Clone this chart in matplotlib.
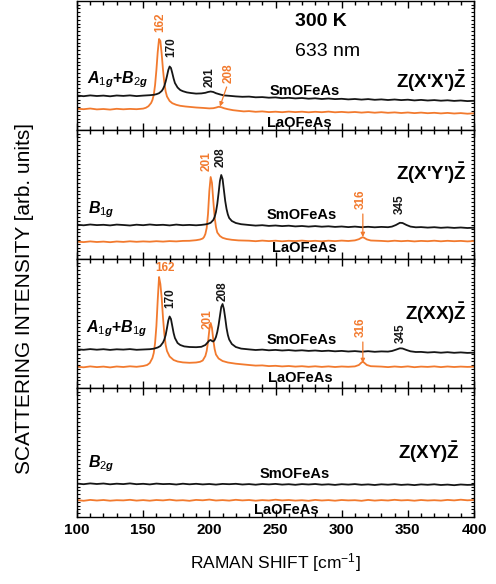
import matplotlib.pyplot as plt
from matplotlib.ticker import MultipleLocator

plt.rcParams['font.family'] = ['Liberation Sans', 'DejaVu Sans']
plt.rcParams['mathtext.fontset'] = 'custom'
plt.rcParams['mathtext.rm'] = 'Liberation Sans'
plt.rcParams['mathtext.it'] = 'Liberation Sans:italic:bold'
plt.rcParams['mathtext.bf'] = 'Liberation Sans:bold'

orange = '#f27a2e'
black = '#161616'

# ---- panel 1: Z(X'X')Z  (A1g+B2g)
p1_sm_x = list(range(100, 160, 5)) + [158, 160, 162, 164, 165, 166, 167, 168, 169, 170, 171, 172, 173, 174,
                                       176, 178, 180, 183, 186, 190, 194, 197, 199, 201, 203, 205, 208, 211, 215] \
    + list(range(220, 405, 5))
p1_sm_y = [34.5, 33.8, 34.6, 34.0, 34.4, 33.7, 34.5, 34.1, 34.6, 33.9, 34.4, 34.8,
           35.2, 35.8, 36.8, 39.0,
           41.0, 44.0, 48.5, 54.0, 60.0, 63.5, 62.0, 57.0, 51.5, 47.0,
           42.5, 40.0, 38.8, 37.6, 37.0, 36.4, 36.6, 37.2, 38.0, 38.5, 38.0, 36.8, 35.6, 34.6, 34.2,
           33.6, 33.2, 33.4, 32.7, 32.9, 32.3, 32.6, 31.8, 32.2, 31.6, 32.0, 31.3, 31.7, 31.0, 31.5,
           30.9, 31.2, 30.6, 31.0, 30.4, 30.9, 30.2, 30.6, 30.0, 30.5, 29.9, 30.3, 29.6, 30.1, 29.5,
           29.9, 29.3, 29.7, 29.1, 29.5, 28.9, 29.2]
p1_la_x = list(range(100, 155, 5)) + [152, 154, 156, 157, 158, 159, 160, 161, 162, 163, 164, 165, 166, 167, 168,
                                       170, 172, 175, 178, 182, 186, 190, 195, 200, 203, 205, 207, 209, 211, 214,
                                       218, 222, 226] + list(range(230, 405, 5))
p1_la_y = [21.3, 20.8, 21.5, 20.6, 21.0, 20.4, 21.2, 20.7, 21.1, 20.8, 21.4,
           22.2, 23.8, 27.0, 30.0, 35.0, 45.0, 60.0, 78.0, 91.0, 89.0, 76.0, 60.0, 47.0, 38.5, 33.5,
           29.0, 26.8, 25.2, 24.2, 23.5, 23.0, 22.5, 22.1, 21.6, 21.8, 22.4, 23.2, 22.8, 21.8, 20.8,
           19.8, 19.2, 18.6,
           18.9, 18.2, 18.6, 17.9, 18.3, 17.8, 18.4, 17.9, 18.3, 17.7, 18.2, 17.8, 18.4, 17.7, 18.1,
           17.6, 18.0, 17.4, 17.9, 17.3, 17.8, 17.2, 17.6, 17.0, 17.5, 16.9, 17.4, 16.8, 17.2, 16.6,
           17.1, 16.5, 16.9, 16.3, 16.7]

# ---- panel 2: Z(X'Y')Z  (B1g)
p2_sm_x = list(range(100, 195, 5)) + [194, 197, 199, 201, 203, 204, 205, 206, 207, 208, 209, 210, 211, 212,
                                       213, 214, 215, 217, 220, 224] + list(range(230, 340, 5)) \
    + [338, 341, 344, 346, 349, 352, 356] + list(range(360, 405, 5))
p2_sm_y = [34.3, 33.7, 34.5, 33.9, 34.2, 33.6, 34.4, 34.0, 33.5, 34.3, 33.8, 34.5, 33.9, 34.2, 33.6,
           34.4, 33.8, 34.1, 33.7,
           34.1, 34.6, 35.2, 36.2, 39.0, 42.0, 47.0, 55.0, 66.0, 78.0, 84.0, 80.0, 69.0, 58.0, 50.0,
           44.5, 41.0, 38.0, 36.0, 34.8,
           34.0, 33.4, 33.8, 33.1, 33.5, 32.9, 33.3, 32.6, 33.0, 32.4, 32.9, 32.3, 32.7, 32.1, 32.5,
           31.9, 32.4, 31.8, 32.2, 31.7, 32.1, 31.8,
           32.4, 34.0, 36.2, 36.0, 34.0, 32.4, 31.7,
           31.9, 31.4, 31.8, 31.2, 31.6, 31.1, 31.5, 31.0, 31.3]
p2_la_x = list(range(100, 190, 5)) + [190, 193, 195, 196, 197, 198, 199, 200, 201, 202, 203, 204, 205, 206,
                                       208, 210, 213, 217, 222] + list(range(230, 310, 5)) \
    + [310, 313, 315, 316, 317, 319, 322] + list(range(330, 405, 5))
p2_la_y = [17.3, 16.9, 17.6, 17.0, 17.4, 16.8, 17.5, 17.1, 17.7, 17.2, 17.6, 17.3, 17.8, 17.4, 17.9,
           17.6, 18.1, 18.2,
           18.8, 19.5, 20.5, 22.0, 25.0, 31.0, 45.0, 68.0, 82.0, 76.0, 58.0, 42.0, 32.0, 26.5, 23.0,
           21.2, 20.0, 19.2, 18.6,
           18.3, 17.8, 18.4, 17.9, 18.3, 17.7, 18.2, 17.9, 18.4, 17.8, 18.2, 17.7, 18.3, 17.9, 18.4, 18.0,
           18.6, 19.8, 21.3, 21.8, 21.2, 19.6, 18.5,
           18.1, 17.7, 18.3, 17.8, 18.2, 17.6, 18.1, 17.8, 18.3, 17.7, 18.2, 17.8, 18.1, 17.6, 18.0]

# ---- panel 3: Z(XX)Z  (A1g+B1g)
p3_sm_x = list(range(100, 160, 5)) + [158, 161, 163, 165, 166, 167, 168, 169, 170, 171, 172, 173, 174,
                                       176, 178, 181, 185, 190, 194, 197, 199, 200, 201, 202, 203, 204,
                                       205, 206, 207, 208, 209, 210, 211, 212, 213, 214, 215, 217, 220, 224] \
    + list(range(230, 340, 5)) + [338, 341, 344, 346, 349, 352, 356] + list(range(360, 405, 5))
p3_sm_y = [38.7, 38.2, 38.9, 38.3, 38.8, 38.1, 38.7, 38.4, 38.9, 38.2, 38.5, 38.8,
           39.3, 40.5, 42.0, 45.5, 48.5, 53.0, 60.0, 67.5, 71.5, 69.0, 62.0, 55.0, 50.0, 45.0, 43.0,
           41.6, 41.0, 40.8, 41.2, 43.0, 46.0, 47.5, 48.0, 47.0, 46.5, 48.0, 51.0, 56.0, 63.0, 72.0,
           81.0, 84.0, 79.0, 70.0, 60.0, 53.0, 48.5, 44.0, 41.0, 39.4,
           38.6, 38.0, 38.4, 37.7, 38.1, 37.5, 37.9, 37.3, 37.7, 37.1, 37.5, 36.9, 37.3, 36.7, 37.1,
           36.5, 36.9, 36.3, 36.8, 36.2, 36.6, 36.4,
           37.0, 38.3, 39.7, 39.5, 38.0, 36.7, 36.0,
           36.1, 35.5, 35.9, 35.3, 35.8, 35.2, 35.6, 35.1, 35.3]
p3_la_x = list(range(100, 155, 5)) + [153, 155, 157, 158, 159, 160, 161, 162, 163, 164, 165, 166, 167, 168,
                                       170, 173, 176, 180, 185, 190, 193, 195, 197, 198, 199, 200, 201, 202,
                                       203, 204, 205, 207, 210, 214, 220] + list(range(230, 310, 5)) \
    + [310, 313, 315, 316, 317, 319, 322] + list(range(330, 405, 5))
p3_la_y = [21.3, 20.7, 21.6, 20.9, 21.4, 20.6, 21.5, 21.0, 21.7, 21.2, 22.0,
           23.0, 25.0, 30.0, 35.0, 45.0, 62.0, 88.0, 111.0, 104.0, 90.0, 70.0, 54.0, 43.0, 37.0,
           31.5, 28.0, 26.5, 25.6, 25.2, 25.5, 26.2, 27.5, 32.0, 37.0, 46.0, 58.0, 65.0, 60.0,
           48.0, 39.0, 33.5, 29.5, 27.0, 25.5, 24.3,
           23.0, 22.4, 22.6, 21.9, 22.2, 21.6, 22.0, 21.4, 21.8, 21.2, 21.7, 21.1, 21.6, 21.0, 21.5, 21.2,
           21.6, 23.0, 25.5, 26.3, 25.3, 23.0, 21.8,
           21.4, 20.9, 21.5, 21.0, 21.6, 20.8, 21.4, 21.1, 21.6, 20.9, 21.5, 21.0, 21.4, 21.1, 21.3]

# ---- panel 4: Z(XY)Z  (B2g)
p4_x = list(range(100, 405, 5))
p4_sm_y = [33.4, 32.8, 33.6, 33.0, 33.5, 32.7, 33.3, 32.9, 33.6, 32.8,
           33.2, 32.6, 33.4, 32.9, 33.1, 32.5, 33.3, 32.7, 33.2, 32.6,
           33.0, 32.4, 33.1, 32.8, 33.2, 32.5, 32.9, 32.3, 33.0, 32.6,
           33.1, 32.4, 32.8, 32.2, 32.9, 32.5, 33.0, 32.3, 32.7, 32.1,
           32.8, 32.4, 32.9, 32.2, 32.6, 32.0, 32.7, 32.3, 32.8, 32.1,
           32.5, 31.9, 32.6, 32.2, 32.7, 32.0, 32.4, 31.8, 32.5, 32.1, 32.3]
p4_la_y = [16.9, 16.2, 17.1, 16.5, 17.0, 16.3, 16.8, 16.6, 17.2, 16.4,
           16.9, 16.3, 17.0, 16.6, 17.3, 16.5, 16.8, 16.2, 17.1, 16.7,
           17.4, 16.5, 16.9, 16.4, 17.2, 16.6, 17.0, 16.3, 16.9, 16.5,
           17.3, 16.6, 17.0, 16.4, 16.8, 16.2, 17.1, 16.5, 16.9, 16.3,
           17.0, 16.6, 16.8, 16.2, 17.1, 16.4, 16.9, 16.5, 17.2, 16.6,
           16.9, 16.3, 17.0, 16.5, 16.8, 16.4, 17.1, 16.6, 17.3, 16.7, 17.0]

W, H = 496, 584
fig = plt.figure(figsize=(W / 100, H / 100), dpi=100)
left, right = 77 / W, 474 / W
ph = 129 / H
bot = 1 - 517 / H
axes = [fig.add_axes([left, bot + (3 - i) * ph, right - left, ph]) for i in range(4)]

series = [(p1_sm_x, p1_sm_y, p1_la_x, p1_la_y),
          (p2_sm_x, p2_sm_y, p2_la_x, p2_la_y),
          (p3_sm_x, p3_sm_y, p3_la_x, p3_la_y),
          (p4_x, p4_sm_y, p4_x, p4_la_y)]

for i, ax in enumerate(axes):
    sx, sy, lx, ly = series[i]
    ax.plot(lx, ly, color=orange, lw=1.3)
    ax.plot(sx, sy, color=black, lw=1.3)
    ax.set_xlim(100, 400)
    ax.set_ylim(0, 129)
    ax.xaxis.set_major_locator(MultipleLocator(50))
    ax.xaxis.set_minor_locator(MultipleLocator(10))
    ax.yaxis.set_major_locator(MultipleLocator(3.8))
    ax.tick_params(which='both', direction='in', top=True, right=True)
    ax.tick_params(axis='x', which='major', length=5, width=1)
    ax.tick_params(axis='x', which='minor', length=3, width=1)
    ax.tick_params(axis='y', length=2, width=0.8, labelleft=False)
    ax.tick_params(axis='x', labelbottom=(i == 3), labelsize=11, pad=4)
    for s in ax.spines.values():
        s.set_linewidth(1.0)
    for lab in ax.get_xticklabels():
        lab.set_fontweight('bold')

bold = dict(fontweight='bold')


def peak(ax, x, y, s, c, rot=90, size=8.5):
    ax.text(x, y, s, color=c, rotation=rot, ha='center', va='center', fontsize=size, **bold)


def arrow(ax, x0, y0, x1, y1):
    ax.annotate('', xy=(x1, y1), xytext=(x0, y0),
                arrowprops=dict(arrowstyle='-|>', color=orange, lw=0.9, mutation_scale=6, shrinkA=0, shrinkB=0))


# panel 1
a = axes[0]
peak(a, 162.7, 107.5, '162', orange)
peak(a, 171, 83, '170', black)
peak(a, 200.5, 52.5, '201', black)
peak(a, 214.9, 56.5, '208', orange)
arrow(a, 213.1, 43, 208, 23.5)
a.text(107.6, 47, r"$A_{\mathit{1g}}$+$B_{\mathit{2g}}$", fontsize=11.5, va='baseline', **bold)
a.text(272, 39, 'SmOFeAs', ha='center', va='center', fontsize=10.5, **bold)
a.text(268, 7, 'LaOFeAs', ha='center', va='center', fontsize=10.5, **bold)
a.text(284, 109, '300 K', ha='center', va='center', fontsize=14, **bold)
a.text(289, 79, '633 nm', ha='center', va='center', fontsize=14)
a.text(394.7, 49, r"Z(X'X')$\mathbf{\bar{Z}}$", ha='right', va='center', fontsize=13.5, **bold)

# panel 2
a = axes[1]
peak(a, 197.9, 98, '201', orange)
peak(a, 208.6, 101.5, '208', black)
peak(a, 314.4, 60, '316', orange)
arrow(a, 316, 45, 316, 22)
peak(a, 344, 55, '345', black)
a.text(108.3, 46, r"$B_{\mathit{1g}}$", fontsize=11.5, va='baseline', **bold)
a.text(269.6, 44, 'SmOFeAs', ha='center', va='center', fontsize=10.5, **bold)
a.text(271.8, 11, 'LaOFeAs', ha='center', va='center', fontsize=10.5, **bold)
a.text(394.7, 86, r"Z(X'Y')$\mathbf{\bar{Z}}$", ha='right', va='center', fontsize=13.5, **bold)

# panel 3
a = axes[2]
peak(a, 166.5, 120, '162', orange, rot=0)
peak(a, 170.3, 89.5, '170', black)
peak(a, 198.7, 69, '201', orange)
peak(a, 210, 97, '208', black)
peak(a, 314.4, 60.5, '316', orange)
arrow(a, 316, 46, 316, 25)
peak(a, 344.4, 54.5, '345', black)
a.text(106.8, 56, r"$A_{\mathit{1g}}$+$B_{\mathit{1g}}$", fontsize=11.5, va='baseline', **bold)
a.text(269.8, 48, 'SmOFeAs', ha='center', va='center', fontsize=10.5, **bold)
a.text(268.6, 10, 'LaOFeAs', ha='center', va='center', fontsize=10.5, **bold)
a.text(394.7, 75, r"Z(XX)$\mathbf{\bar{Z}}$", ha='right', va='center', fontsize=13.5, **bold)

# panel 4
a = axes[3]
a.text(108.3, 50, r"$B_{\mathit{2g}}$", fontsize=11.5, va='baseline', **bold)
a.text(264.6, 43, 'SmOFeAs', ha='center', va='center', fontsize=10.5, **bold)
a.text(258.5, 7, 'LaOFeAs', ha='center', va='center', fontsize=10.5, **bold)
a.text(389.4, 65, r"Z(XY)$\mathbf{\bar{Z}}$", ha='right', va='center', fontsize=13.5, **bold)

fig.text(275.5 / W, 1 - 563 / H, r"RAMAN SHIFT [cm$^{-1}$]", ha='center', va='center', fontsize=12.5)
fig.text(25 / W, 1 - 298 / H, 'SCATTERING INTENSITY [arb. units]', rotation=90,
         ha='center', va='center', fontsize=15)

fig.savefig('out.png', dpi=100)
